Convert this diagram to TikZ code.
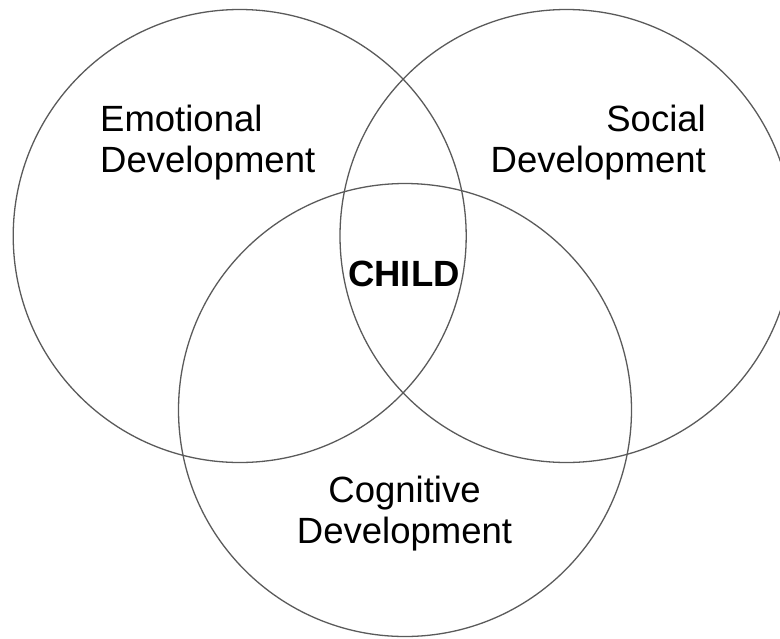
\documentclass[tikz,border=0pt]{standalone}
\usepackage{fontspec}
\setmainfont{Liberation Sans}
\usepackage{tikz}

\tikzset{
  area/.style={shape=circle, draw={rgb,255:red,90;green,90;blue,90}, line width=1.3pt, minimum size=453pt, inner sep=0pt},
  lbl/.style={inner sep=0pt, font=\fontsize{36.5}{41}\selectfont}
}

\begin{document}
\begin{tikzpicture}[x=1pt, y=-1pt]
\useasboundingbox (0,0) rectangle (780,638);
\node[area](emo) at (239.7,236) {};
\node[area](soc) at (566.5,236) {};
\node[area](cog) at (405,410) {};
% base anchor sits on the last line
\node[lbl, align=left, anchor=base west](emotxt) at (100,172) {Emotional\\Development};
\node[lbl, align=right, anchor=base east](soctxt) at (706,172) {Social\\Development};
\node[lbl, align=center, anchor=base](cogtxt) at (404.5,543) {Cognitive\\Development};
\node[lbl, anchor=base, font=\fontsize{36.5}{41}\selectfont\bfseries](child) at (404,286) {CHILD};
\end{tikzpicture}
\end{document}
